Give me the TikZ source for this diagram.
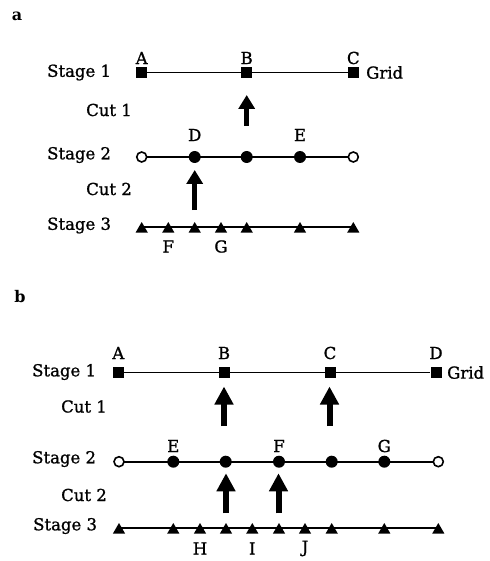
\documentclass[tikz,border=0pt]{standalone}
\usepackage{fontspec}
\setmainfont{DejaVu Serif}
\newfontfamily\lblfont[FakeBold=1.1]{DejaVu Serif}
\usetikzlibrary{arrows.meta,shapes.geometric}
\begin{document}
\begin{tikzpicture}[x=1pt,y=-1pt,
  every node/.style={font=\fontsize{16.5}{18}\selectfont\lblfont},
  txt/.style={inner sep=0pt},
  lbl/.style={inner sep=0pt, anchor=west},
  panel/.style={inner sep=0pt, font=\fontsize{16}{18}\selectfont\rmfamily\bfseries},
  stageline/.style={line width=1.6pt},
  sq/.style={rectangle, fill=black, minimum size=11pt, inner sep=0pt},
  dot/.style={circle, fill=black, minimum size=12pt, inner sep=0pt},
  odot/.style={circle, draw=black, fill=white, line width=1.6pt, minimum size=10pt, inner sep=0pt},
  tri/.style={regular polygon, regular polygon sides=3, fill=black, minimum size=14pt, inner sep=0pt, yshift=-2pt},
  cutA/.style={line width=5pt, -{Triangle[width=16pt,length=14pt]}},
  cutB/.style={line width=6pt, -{Triangle[width=18pt,length=18pt]}},
]
\useasboundingbox (0,0) rectangle (489,561);

% ---------------- panel a ----------------
\node[panel] (pa) at (17,16) {a};

\node[lbl] (aS1) at (47,72.5) {Stage 1};
\node[lbl] (aC1) at (86,110) {Cut 1};
\node[lbl] (aS2) at (47,155) {Stage 2};
\node[lbl] (aC2) at (86,189) {Cut 2};
\node[lbl] (aS3) at (47,225.5) {Stage 3};

% stage 1: coarse grid
\node[sq] (aA) at (141.7,72.5) {};
\node[sq] (aB) at (246.7,72.5) {};
\node[sq] (aC) at (353.3,72.5) {};
\draw[stageline] (aA) -- (aC);
\node[sq] at (aA) {};
\node[sq] at (aB) {};
\node[sq] at (aC) {};
\node[txt] (aAl) at (141.7,58) {A};
\node[txt] (aBl) at (246.7,58) {B};
\node[txt] (aCl) at (353.3,58) {C};
\node[lbl] (agrid) at (366,72.5) {Grid};

% stage 2
\coordinate (a2L) at (141.7,157);
\coordinate (a2R) at (353.3,157);
\draw[stageline] (a2L) -- (a2R);
\node[odot] (a21) at (141.7,157) {};
\node[dot]  (a22) at (194.7,157) {};
\node[dot]  (a23) at (246.7,157) {};
\node[dot]  (a24) at (300,157) {};
\node[odot] (a25) at (353.3,157) {};
\node[txt] (aDl) at (194.7,135) {D};
\node[txt] (aEl) at (300,135) {E};

% stage 3
\coordinate (a3L) at (141.7,227);
\coordinate (a3R) at (353.3,227);
\draw[stageline] (a3L) -- (a3R);
\foreach \x [count=\i] in {141.7,168.3,194.7,221,246.7,300,353.3}
  \node[tri] (a3\i) at (\x,227) {};
\node[txt] (aFl) at (168.3,246.5) {F};
\node[txt] (aGl) at (221,246.5) {G};

% cuts
\coordinate (acut1t) at (246.7,126);
\coordinate (acut1h) at (246.7,95);
\draw[cutA] (acut1t) -- (acut1h);
\coordinate (acut2t) at (194.7,210);
\coordinate (acut2h) at (194.7,170);
\draw[cutA] (acut2t) -- (acut2h);

% ---------------- panel b ----------------
\node[panel] (pb) at (20,297) {b};

\node[lbl] (bS1) at (32,372) {Stage 1};
\node[lbl] (bC1) at (61,406.5) {Cut 1};
\node[lbl] (bS2) at (32,459) {Stage 2};
\node[lbl] (bC2) at (61,495) {Cut 2};
\node[lbl] (bS3) at (33,526) {Stage 3};

% stage 1: coarse grid
\node[sq] (bA) at (118.3,372.5) {};
\node[sq] (bB) at (224,372.5) {};
\node[sq] (bC) at (330,372.5) {};
\node[sq] (bD) at (436,372.5) {};
\draw[stageline] (bA) -- (bD);
\node[sq] at (bA) {};
\node[sq] at (bB) {};
\node[sq] at (bC) {};
\node[sq] at (bD) {};
\node[txt] (bAl) at (118.3,353) {A};
\node[txt] (bBl) at (224,353) {B};
\node[txt] (bCl) at (330,353) {C};
\node[txt] (bDl) at (436,353) {D};
\node[lbl] (bgrid) at (447,372.5) {Grid};

% stage 2
\coordinate (b2L) at (119,461.7);
\coordinate (b2R) at (438.3,461.7);
\draw[stageline] (b2L) -- (b2R);
\node[odot] (b21) at (119,461.7) {};
\node[dot]  (b22) at (173.3,461.7) {};
\node[dot]  (b23) at (225.7,461.7) {};
\node[dot]  (b24) at (279,461.7) {};
\node[dot]  (b25) at (331.7,461.7) {};
\node[dot]  (b26) at (384.3,461.7) {};
\node[odot] (b27) at (438.3,461.7) {};
\node[txt] (bEl) at (173.3,446) {E};
\node[txt] (bFl) at (279,446) {F};
\node[txt] (bGl) at (384.3,446) {G};

% stage 3
\coordinate (b3L) at (119,528);
\coordinate (b3R) at (438.3,528);
\draw[stageline] (b3L) -- (b3R);
\foreach \x [count=\i] in {119,173.3,200,226,252.3,279,305,331.7,384.3,438.3}
  \node[tri] (b3\i) at (\x,528) {};
\node[txt] (bHl) at (200,548.5) {H};
\node[txt] (bIl) at (252.3,548.5) {I};
\node[txt] (bJl) at (305,548.5) {J};

% cuts
\coordinate (bc1at) at (224,426);
\coordinate (bc1ah) at (224,386.5);
\draw[cutB] (bc1at) -- (bc1ah);
\coordinate (bc1bt) at (329.5,426);
\coordinate (bc1bh) at (329.5,386.5);
\draw[cutB] (bc1bt) -- (bc1bh);
\coordinate (bc2at) at (226,513.3);
\coordinate (bc2ah) at (226,473.3);
\draw[cutB] (bc2at) -- (bc2ah);
\coordinate (bc2bt) at (278.5,513.3);
\coordinate (bc2bh) at (278.5,473.3);
\draw[cutB] (bc2bt) -- (bc2bh);
\end{tikzpicture}
\end{document}
